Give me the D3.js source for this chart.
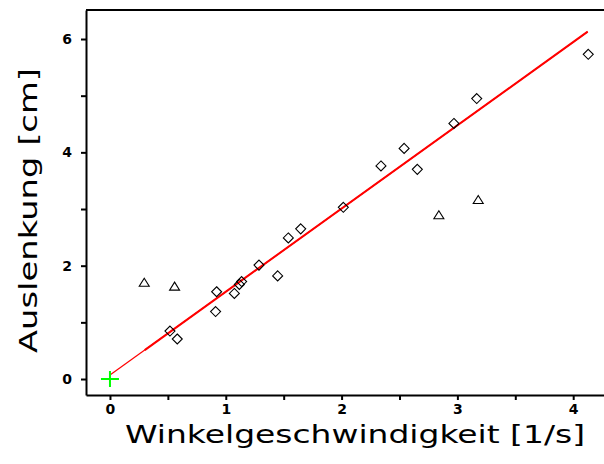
<!DOCTYPE html>
<html>
<head>
<meta charset="utf-8">
<script src="https://cdn.jsdelivr.net/npm/d3@7"></script>
<style>
  body { margin: 0; background: #fff; }
  svg { display: block; }
  .axis text { font-family: "DejaVu Sans", sans-serif; font-size: 14px; font-weight: bold; fill: #000; }
  .axis path, .axis line { stroke: #000; stroke-width: 2; }
  .title { font-family: "DejaVu Sans", sans-serif; font-size: 25px; fill: #000; }
</style>
</head>
<body>
<svg width="604" height="464"></svg>
<script>
// measured points (diamonds = used in fit, triangles = outliers)
var diamondX = [0.518, 0.581, 0.912, 0.921, 1.074, 1.117, 1.137, 1.287, 1.448, 1.54, 1.647, 2.015, 2.34, 2.54, 2.654, 2.97, 3.167, 4.13];
var diamondY = [0.847, 0.706, 1.19, 1.54, 1.51, 1.67, 1.72, 2.01, 1.82, 2.49, 2.65, 3.03, 3.76, 4.07, 3.70, 4.51, 4.95, 5.73];
var triangleX = [0.296, 0.558, 2.84, 3.18];
var triangleY = [1.70, 1.63, 2.89, 3.16];

// fit line y = a + b*x
var fitA = 0.07;
var fitB = 1.469;
var fitRangeFull = [0, 4.125];
var fitRangeData = [0.3, 4.125];

var xTicks = [0, 0.5, 1, 1.5, 2, 2.5, 3, 3.5, 4];
var yTicks = [0, 1, 2, 3, 4, 5, 6];

var svg = d3.select('svg');

var xScale = d3.scaleLinear().domain([-0.207, 4.266]).range([86, 604]);
var yScale = d3.scaleLinear().domain([-0.282, 6.512]).range([395, 10]);

var xAxis = d3.axisBottom(xScale)
    .tickValues(xTicks)
    .tickSize(5)
    .tickSizeOuter(0)
    .tickPadding(4)
    .tickFormat(function(d) { return Number.isInteger(d) ? d : ''; });

var yAxis = d3.axisLeft(yScale)
    .tickValues(yTicks)
    .tickSize(5)
    .tickSizeOuter(0)
    .tickPadding(9)
    .tickFormat(function(d) { return d % 2 == 0 ? d : ''; });

svg.append('g')
    .attr('class', 'axis')
    .attr('transform', 'translate(0,395)')
    .call(xAxis);

svg.append('g')
    .attr('class', 'axis')
    .attr('transform', 'translate(86,0)')
    .call(yAxis);

// top frame line
svg.append('line')
    .attr('x1', xScale.range()[0]).attr('x2', xScale.range()[1])
    .attr('y1', yScale.range()[1]).attr('y2', yScale.range()[1])
    .attr('stroke', '#000').attr('stroke-width', 2);

// fit lines
function fitLine(r, w) {
    svg.append('line')
        .attr('x1', xScale(r[0])).attr('y1', yScale(fitA + fitB * r[0]))
        .attr('x2', xScale(r[1])).attr('y2', yScale(fitA + fitB * r[1]))
        .attr('stroke', '#ff0000').attr('stroke-width', w);
}
fitLine(fitRangeFull, 1.2);
fitLine(fitRangeData, 2);

// diamonds
var diamonds = d3.range(diamondX.length).map(function(i) { return [diamondX[i], diamondY[i]]; });
svg.selectAll('.diamond')
    .data(diamonds).enter()
    .append('path')
    .attr('class', 'diamond')
    .attr('d', 'M0,-5L5,0L0,5L-5,0Z')
    .attr('transform', function(d) { return 'translate(' + [xScale(d[0]), yScale(d[1])] + ')'; })
    .attr('fill', 'none')
    .attr('stroke', '#000')
    .attr('stroke-width', 1.1);

// triangles
var triangles = d3.range(triangleX.length).map(function(i) { return [triangleX[i], triangleY[i]]; });
svg.selectAll('.tri')
    .data(triangles).enter()
    .append('path')
    .attr('class', 'tri')
    .attr('d', 'M0,-4.5L5,3.5L-5,3.5Z')
    .attr('transform', function(d) { return 'translate(' + [xScale(d[0]), yScale(d[1])] + ')'; })
    .attr('fill', 'none')
    .attr('stroke', '#000')
    .attr('stroke-width', 1.1);

// origin cross
var ox = xScale(0), oy = yScale(0);
svg.append('path')
    .attr('d', 'M' + (ox - 9) + ',' + oy + 'H' + (ox + 9) + 'M' + ox + ',' + (oy - 8) + 'V' + (oy + 8))
    .attr('stroke', '#00ff00')
    .attr('stroke-width', 2);

// axis titles
svg.append('text')
    .attr('class', 'title')
    .attr('x', 125)
    .attr('y', 443)
    .attr('textLength', 460)
    .attr('lengthAdjust', 'spacingAndGlyphs')
    .text('Winkelgeschwindigkeit [1/s]');

svg.append('text')
    .attr('class', 'title')
    .attr('transform', 'translate(37,353) rotate(-90)')
    .attr('textLength', 285)
    .attr('lengthAdjust', 'spacingAndGlyphs')
    .text('Auslenkung [cm]');
</script>
</body>
</html>
